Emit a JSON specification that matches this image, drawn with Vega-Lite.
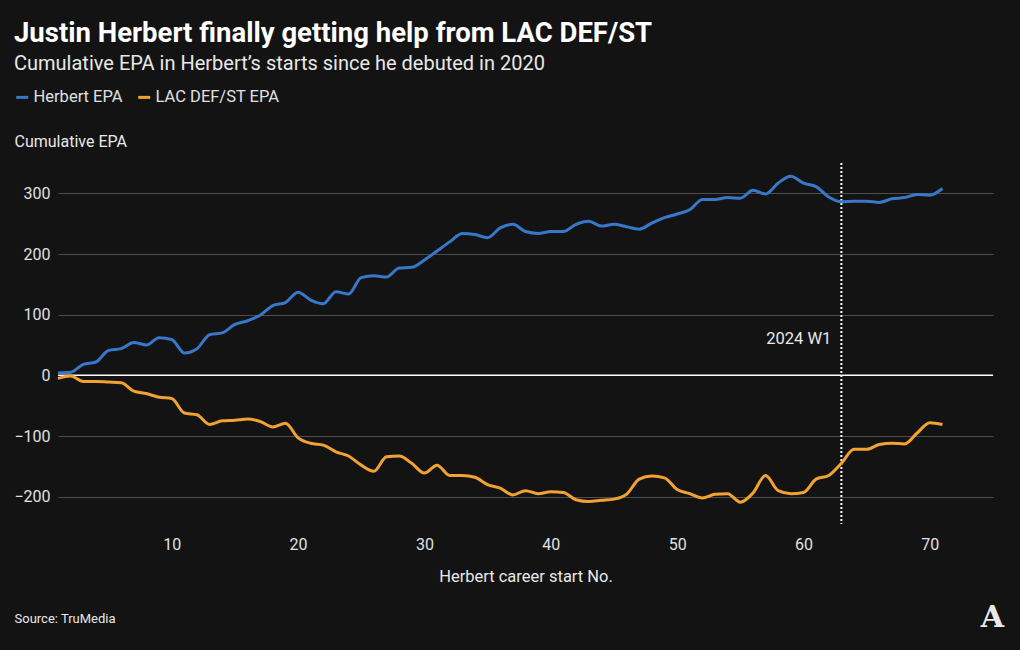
{
  "$schema": "https://vega.github.io/schema/vega-lite/v6.json",
  "autosize": {"type": "none"},
  "width": 935,
  "height": 361,
  "padding": {"left": 58, "top": 163, "right": 27, "bottom": 126},
  "background": "#131313",
  "config": {
    "font": "Roboto",
    "view": {"stroke": null},
    "axis": {"labelFont": "Roboto", "titleFont": "Roboto"}
  },
  "title": {
    "text": "Justin Herbert finally getting help from LAC DEF/ST",
    "subtitle": "Cumulative EPA in Herbert’s starts since he debuted in 2020",
    "anchor": "start",
    "frame": "group",
    "dx": -44,
    "offset": 15,
    "color": "#ffffff",
    "fontSize": 27.5,
    "fontWeight": "bold",
    "subtitleColor": "#e8e8e8",
    "subtitleFontSize": 20,
    "subtitlePadding": 7
  },
  "datasets": {
    "epa": [
      {"n":1,"s":"Herbert EPA","v":4},{"n":2,"s":"Herbert EPA","v":5},{"n":3,"s":"Herbert EPA","v":18},{"n":4,"s":"Herbert EPA","v":22},{"n":5,"s":"Herbert EPA","v":41},{"n":6,"s":"Herbert EPA","v":44},{"n":7,"s":"Herbert EPA","v":54},{"n":8,"s":"Herbert EPA","v":50},{"n":9,"s":"Herbert EPA","v":62},{"n":10,"s":"Herbert EPA","v":59},
      {"n":11,"s":"Herbert EPA","v":37},{"n":12,"s":"Herbert EPA","v":44},{"n":13,"s":"Herbert EPA","v":67},{"n":14,"s":"Herbert EPA","v":70},{"n":15,"s":"Herbert EPA","v":84},{"n":16,"s":"Herbert EPA","v":90},{"n":17,"s":"Herbert EPA","v":99},{"n":18,"s":"Herbert EPA","v":115},{"n":19,"s":"Herbert EPA","v":120},{"n":20,"s":"Herbert EPA","v":137},
      {"n":21,"s":"Herbert EPA","v":124},{"n":22,"s":"Herbert EPA","v":118},{"n":23,"s":"Herbert EPA","v":138},{"n":24,"s":"Herbert EPA","v":134},{"n":25,"s":"Herbert EPA","v":161},{"n":26,"s":"Herbert EPA","v":164},{"n":27,"s":"Herbert EPA","v":162},{"n":28,"s":"Herbert EPA","v":177},{"n":29,"s":"Herbert EPA","v":178},{"n":30,"s":"Herbert EPA","v":190},
      {"n":31,"s":"Herbert EPA","v":205},{"n":32,"s":"Herbert EPA","v":220},{"n":33,"s":"Herbert EPA","v":234},{"n":34,"s":"Herbert EPA","v":232},{"n":35,"s":"Herbert EPA","v":227},{"n":36,"s":"Herbert EPA","v":243},{"n":37,"s":"Herbert EPA","v":249},{"n":38,"s":"Herbert EPA","v":237},{"n":39,"s":"Herbert EPA","v":234},{"n":40,"s":"Herbert EPA","v":237},
      {"n":41,"s":"Herbert EPA","v":237},{"n":42,"s":"Herbert EPA","v":249},{"n":43,"s":"Herbert EPA","v":254},{"n":44,"s":"Herbert EPA","v":246},{"n":45,"s":"Herbert EPA","v":249},{"n":46,"s":"Herbert EPA","v":245},{"n":47,"s":"Herbert EPA","v":241},{"n":48,"s":"Herbert EPA","v":251},{"n":49,"s":"Herbert EPA","v":260},{"n":50,"s":"Herbert EPA","v":266},
      {"n":51,"s":"Herbert EPA","v":273},{"n":52,"s":"Herbert EPA","v":290},{"n":53,"s":"Herbert EPA","v":290},{"n":54,"s":"Herbert EPA","v":293},{"n":55,"s":"Herbert EPA","v":292},{"n":56,"s":"Herbert EPA","v":305},{"n":57,"s":"Herbert EPA","v":299},{"n":58,"s":"Herbert EPA","v":317},{"n":59,"s":"Herbert EPA","v":328},{"n":60,"s":"Herbert EPA","v":317},
      {"n":61,"s":"Herbert EPA","v":311},{"n":62,"s":"Herbert EPA","v":294},{"n":63,"s":"Herbert EPA","v":286},{"n":64,"s":"Herbert EPA","v":287},{"n":65,"s":"Herbert EPA","v":287},{"n":66,"s":"Herbert EPA","v":285},{"n":67,"s":"Herbert EPA","v":291},{"n":68,"s":"Herbert EPA","v":293},{"n":69,"s":"Herbert EPA","v":298},{"n":70,"s":"Herbert EPA","v":297},
      {"n":71,"s":"Herbert EPA","v":308},
      {"n":1,"s":"LAC DEF/ST EPA","v":-5},{"n":2,"s":"LAC DEF/ST EPA","v":-1},{"n":3,"s":"LAC DEF/ST EPA","v":-10},{"n":4,"s":"LAC DEF/ST EPA","v":-10},{"n":5,"s":"LAC DEF/ST EPA","v":-11},{"n":6,"s":"LAC DEF/ST EPA","v":-12},{"n":7,"s":"LAC DEF/ST EPA","v":-26},{"n":8,"s":"LAC DEF/ST EPA","v":-30},{"n":9,"s":"LAC DEF/ST EPA","v":-36},{"n":10,"s":"LAC DEF/ST EPA","v":-38},
      {"n":11,"s":"LAC DEF/ST EPA","v":-62},{"n":12,"s":"LAC DEF/ST EPA","v":-65},{"n":13,"s":"LAC DEF/ST EPA","v":-81},{"n":14,"s":"LAC DEF/ST EPA","v":-75},{"n":15,"s":"LAC DEF/ST EPA","v":-74},{"n":16,"s":"LAC DEF/ST EPA","v":-72},{"n":17,"s":"LAC DEF/ST EPA","v":-76},{"n":18,"s":"LAC DEF/ST EPA","v":-85},{"n":19,"s":"LAC DEF/ST EPA","v":-79},{"n":20,"s":"LAC DEF/ST EPA","v":-103},
      {"n":21,"s":"LAC DEF/ST EPA","v":-112},{"n":22,"s":"LAC DEF/ST EPA","v":-115},{"n":23,"s":"LAC DEF/ST EPA","v":-126},{"n":24,"s":"LAC DEF/ST EPA","v":-133},{"n":25,"s":"LAC DEF/ST EPA","v":-148},{"n":26,"s":"LAC DEF/ST EPA","v":-158},{"n":27,"s":"LAC DEF/ST EPA","v":-134},{"n":28,"s":"LAC DEF/ST EPA","v":-133},{"n":29,"s":"LAC DEF/ST EPA","v":-145},{"n":30,"s":"LAC DEF/ST EPA","v":-161},
      {"n":31,"s":"LAC DEF/ST EPA","v":-148},{"n":32,"s":"LAC DEF/ST EPA","v":-165},{"n":33,"s":"LAC DEF/ST EPA","v":-165},{"n":34,"s":"LAC DEF/ST EPA","v":-168},{"n":35,"s":"LAC DEF/ST EPA","v":-180},{"n":36,"s":"LAC DEF/ST EPA","v":-186},{"n":37,"s":"LAC DEF/ST EPA","v":-197},{"n":38,"s":"LAC DEF/ST EPA","v":-190},{"n":39,"s":"LAC DEF/ST EPA","v":-195},{"n":40,"s":"LAC DEF/ST EPA","v":-192},
      {"n":41,"s":"LAC DEF/ST EPA","v":-193},{"n":42,"s":"LAC DEF/ST EPA","v":-205},{"n":43,"s":"LAC DEF/ST EPA","v":-208},{"n":44,"s":"LAC DEF/ST EPA","v":-206},{"n":45,"s":"LAC DEF/ST EPA","v":-204},{"n":46,"s":"LAC DEF/ST EPA","v":-196},{"n":47,"s":"LAC DEF/ST EPA","v":-171},{"n":48,"s":"LAC DEF/ST EPA","v":-166},{"n":49,"s":"LAC DEF/ST EPA","v":-169},{"n":50,"s":"LAC DEF/ST EPA","v":-188},
      {"n":51,"s":"LAC DEF/ST EPA","v":-195},{"n":52,"s":"LAC DEF/ST EPA","v":-202},{"n":53,"s":"LAC DEF/ST EPA","v":-196},{"n":54,"s":"LAC DEF/ST EPA","v":-195},{"n":55,"s":"LAC DEF/ST EPA","v":-209},{"n":56,"s":"LAC DEF/ST EPA","v":-194},{"n":57,"s":"LAC DEF/ST EPA","v":-165},{"n":58,"s":"LAC DEF/ST EPA","v":-190},{"n":59,"s":"LAC DEF/ST EPA","v":-195},{"n":60,"s":"LAC DEF/ST EPA","v":-193},
      {"n":61,"s":"LAC DEF/ST EPA","v":-171},{"n":62,"s":"LAC DEF/ST EPA","v":-165},{"n":63,"s":"LAC DEF/ST EPA","v":-145},{"n":64,"s":"LAC DEF/ST EPA","v":-122},{"n":65,"s":"LAC DEF/ST EPA","v":-122},{"n":66,"s":"LAC DEF/ST EPA","v":-114},{"n":67,"s":"LAC DEF/ST EPA","v":-112},{"n":68,"s":"LAC DEF/ST EPA","v":-113},{"n":69,"s":"LAC DEF/ST EPA","v":-95},{"n":70,"s":"LAC DEF/ST EPA","v":-78},
      {"n":71,"s":"LAC DEF/ST EPA","v":-81}
    ],
    "marker": [{"n": 63, "v": 60, "label": "2024 W1"}]
  },
  "resolve": {"axis": {"x": "independent", "y": "independent"}},
  "layer": [
    {
      "data": {"values": [{"v": 0}]},
      "mark": {"type": "rule", "color": "#ffffff", "strokeWidth": 1.5},
      "encoding": {
        "y": {"field": "v", "type": "quantitative", "scale": {"domain": [-245, 350], "nice": false, "zero": false}, "axis": null}
      }
    },
    {
      "data": {"name": "marker"},
      "mark": {"type": "rule", "color": "#ffffff", "strokeWidth": 2, "strokeDash": [2, 2]},
      "encoding": {
        "x": {
          "field": "n", "type": "quantitative",
          "scale": {"domain": [1, 75], "nice": false, "zero": false},
          "axis": {"orient": "bottom", "labels": false, "ticks": false, "domain": false, "grid": false,
            "title": "Source: TruMedia", "titleX": -44, "titleY": 94, "titleAlign": "left",
            "titleBaseline": "middle", "titleFontSize": 13, "titleFontWeight": "normal", "titleColor": "#e8e8e8"}
        }
      }
    },
    {
      "data": {"name": "epa"},
      "mark": {"type": "line", "strokeWidth": 3, "interpolate": "monotone"},
      "encoding": {
        "x": {
          "field": "n", "type": "quantitative",
          "axis": {"orient": "bottom", "values": [10, 20, 30, 40, 50, 60, 70], "format": "d", "ticks": false, "domain": false, "grid": false,
            "labelColor": "#e0e0e0", "labelFontSize": 16, "labelPadding": 12,
            "title": "Herbert career start No.", "titleFontSize": 16.5, "titleFontWeight": "normal", "titleColor": "#e8e8e8",
            "titleX": 467.5, "titleY": 52, "titleBaseline": "middle", "titleAlign": "center"}
        },
        "y": {
          "field": "v", "type": "quantitative",
          "axis": {"orient": "left", "values": [-200, -100, 0, 100, 200, 300], "ticks": false, "domain": false, "grid": true,
            "gridColor": "#4e4e4e", "gridWidth": 1, "labelColor": "#e0e0e0", "labelFontSize": 16, "labelPadding": 8,
            "title": "Cumulative EPA", "titleAngle": 0, "titleAlign": "left", "titleBaseline": "middle",
            "titleX": -44, "titleY": -22, "titleFontSize": 16, "titleFontWeight": "normal", "titleColor": "#e8e8e8"}
        },
        "color": {
          "field": "s", "type": "nominal",
          "scale": {"domain": ["Herbert EPA", "LAC DEF/ST EPA"], "range": ["#3877C9", "#F2A233"]},
          "legend": {"orient": "none", "legendX": -44, "legendY": -74, "direction": "horizontal", "title": null,
            "labelColor": "#e0e0e0", "labelFontSize": 16.5, "labelFont": "Roboto", "symbolStrokeWidth": 3, "symbolSize": 144,
            "columnPadding": 9, "labelOffset": 3}
        }
      }
    },
    {
      "data": {"name": "marker"},
      "mark": {"type": "text", "align": "right", "baseline": "middle", "dx": -10, "fontSize": 16.5, "color": "#e8e8e8"},
      "encoding": {
        "x": {"field": "n", "type": "quantitative", "axis": null},
        "y": {
          "field": "v", "type": "quantitative",
          "axis": {"orient": "right", "labels": false, "ticks": false, "domain": false, "grid": false,
            "title": "A", "titleAngle": 0, "titleX": -1, "titleY": 454, "titleAlign": "center", "titleBaseline": "middle",
            "titleFont": "DejaVu Serif", "titleFontSize": 30, "titleFontWeight": "bold", "titleColor": "#e8e8e8"}
        },
        "text": {"field": "label"}
      }
    }
  ]
}
